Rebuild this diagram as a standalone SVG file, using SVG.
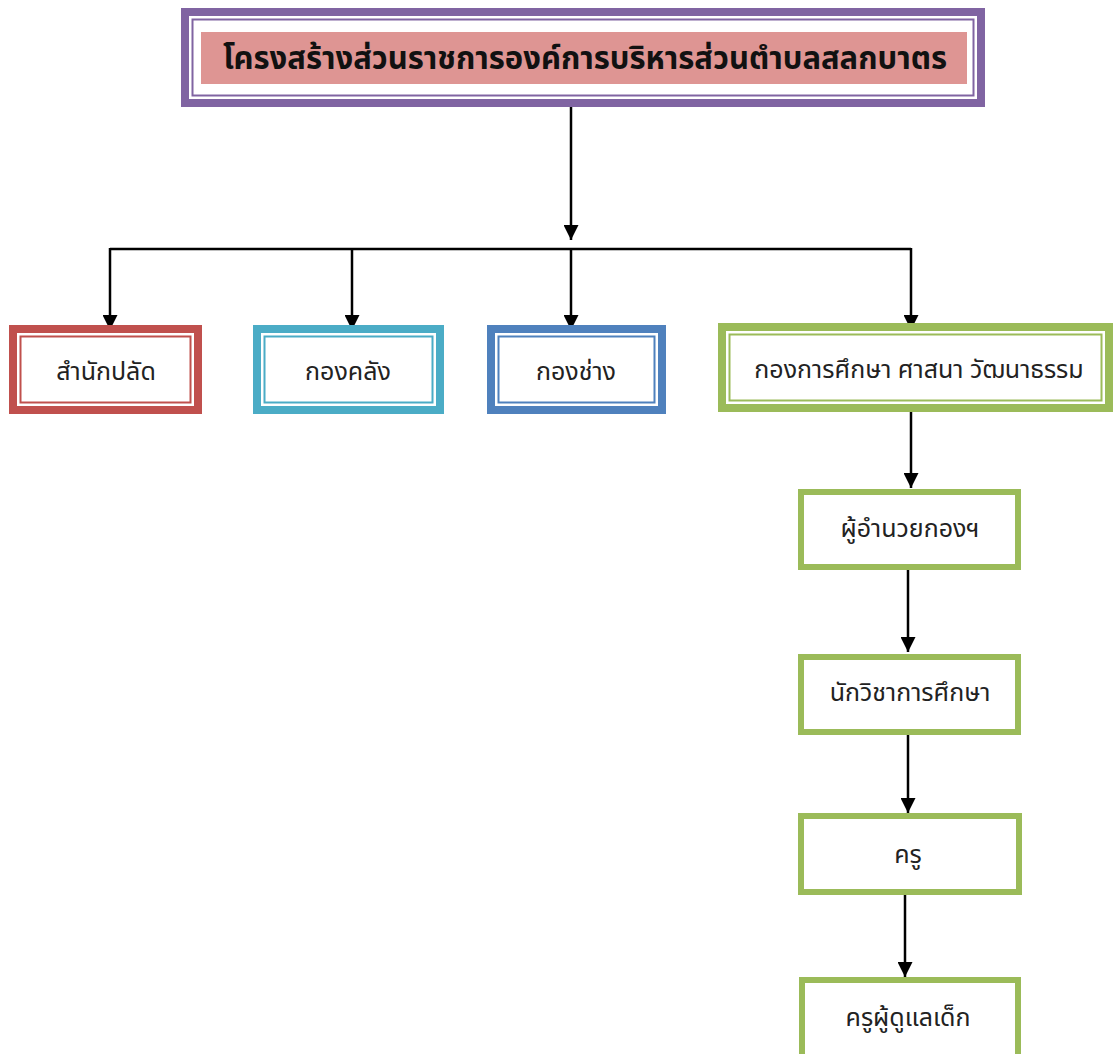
<svg xmlns="http://www.w3.org/2000/svg" width="1113" height="1054" viewBox="0 0 1113 1054">
<style>
.t{font-family:"Noto Sans Thai","Noto Sans Thai Looped","Leelawadee UI","Tahoma","Noto Sans",sans-serif;font-size:25px;fill:#222;text-anchor:middle;dominant-baseline:central}
.title{font-family:"Noto Sans Thai","Noto Sans",sans-serif;font-weight:bold;font-size:32px;fill:#111;text-anchor:middle;dominant-baseline:central}
.c{stroke:#000;stroke-width:2.5;fill:none}
</style>
<defs>
<marker id="ah" viewBox="0 0 15 15" refX="15" refY="7.5" markerWidth="15" markerHeight="15" markerUnits="userSpaceOnUse" orient="auto">
<path d="M0,0 L15,7.5 L0,15 Z" fill="#000"/>
</marker>
</defs>
<rect width="1113" height="1054" fill="#fff"/>
<g id="connectors">
<path class="c" d="M571,107 V240" marker-end="url(#ah)"/>
<path class="c" d="M110,249 H911"/>
<path class="c" d="M110,248 V330" marker-end="url(#ah)"/>
<path class="c" d="M352,248 V330" marker-end="url(#ah)"/>
<path class="c" d="M571,248 V330" marker-end="url(#ah)"/>
<path class="c" d="M911,248 V330" marker-end="url(#ah)"/>
<path class="c" d="M911,412 V488" marker-end="url(#ah)"/>
<path class="c" d="M908,570 V652" marker-end="url(#ah)"/>
<path class="c" d="M908,735 V813" marker-end="url(#ah)"/>
<path class="c" d="M905,894 V977" marker-end="url(#ah)"/>
</g>
<g id="title">
<rect x="185" y="12" width="796" height="91" fill="#fff" stroke="#8064A2" stroke-width="8"/>
<rect x="192.5" y="19.5" width="781" height="76" fill="none" stroke="#8064A2" stroke-width="2"/>
<rect x="201" y="32" width="766" height="52" fill="#DE9593"/>
<text class="title" x="585" y="59" textLength="724" lengthAdjust="spacingAndGlyphs">โครงสร้างส่วนราชการองค์การบริหารส่วนตำบลสลกบาตร</text>
</g>
<g id="n1">
<rect x="13" y="329" width="185" height="81" fill="#fff" stroke="#C0504D" stroke-width="8"/>
<rect x="20.5" y="336.5" width="170" height="66" fill="none" stroke="#C0504D" stroke-width="2"/>
<text class="t" x="106" y="372">สำนักปลัด</text>
</g>
<g id="n2">
<rect x="257" y="329" width="183" height="81" fill="#fff" stroke="#4BACC6" stroke-width="8"/>
<rect x="264.5" y="336.5" width="168" height="66" fill="none" stroke="#4BACC6" stroke-width="2"/>
<text class="t" x="348" y="372">กองคลัง</text>
</g>
<g id="n3">
<rect x="491" y="329" width="171" height="81" fill="#fff" stroke="#4F81BD" stroke-width="8"/>
<rect x="498.5" y="336.5" width="156" height="66" fill="none" stroke="#4F81BD" stroke-width="2"/>
<text class="t" x="576" y="372">กองช่าง</text>
</g>
<g id="n4">
<rect x="722" y="327" width="387" height="81" fill="#fff" stroke="#9BBB59" stroke-width="8"/>
<rect x="729.5" y="334.5" width="372" height="66" fill="none" stroke="#9BBB59" stroke-width="2"/>
<text class="t" x="919" y="370">กองการศึกษา ศาสนา วัฒนาธรรม</text>
</g>
<g id="n5">
<rect x="801" y="492" width="217" height="75" fill="#fff" stroke="#9BBB59" stroke-width="6"/>
<text class="t" x="910" y="529">ผู้อำนวยกองฯ</text>
</g>
<g id="n6">
<rect x="801" y="657" width="217" height="75" fill="#fff" stroke="#9BBB59" stroke-width="6"/>
<text class="t" x="910" y="693">นักวิชาการศึกษา</text>
</g>
<g id="n7">
<rect x="801" y="816" width="218" height="76" fill="#fff" stroke="#9BBB59" stroke-width="6"/>
<text class="t" x="908" y="855">ครู</text>
</g>
<g id="n8">
<rect x="802" y="980" width="216" height="80" fill="#fff" stroke="#9BBB59" stroke-width="6"/>
<text class="t" x="908" y="1018">ครูผู้ดูแลเด็ก</text>
</g>
</svg>
